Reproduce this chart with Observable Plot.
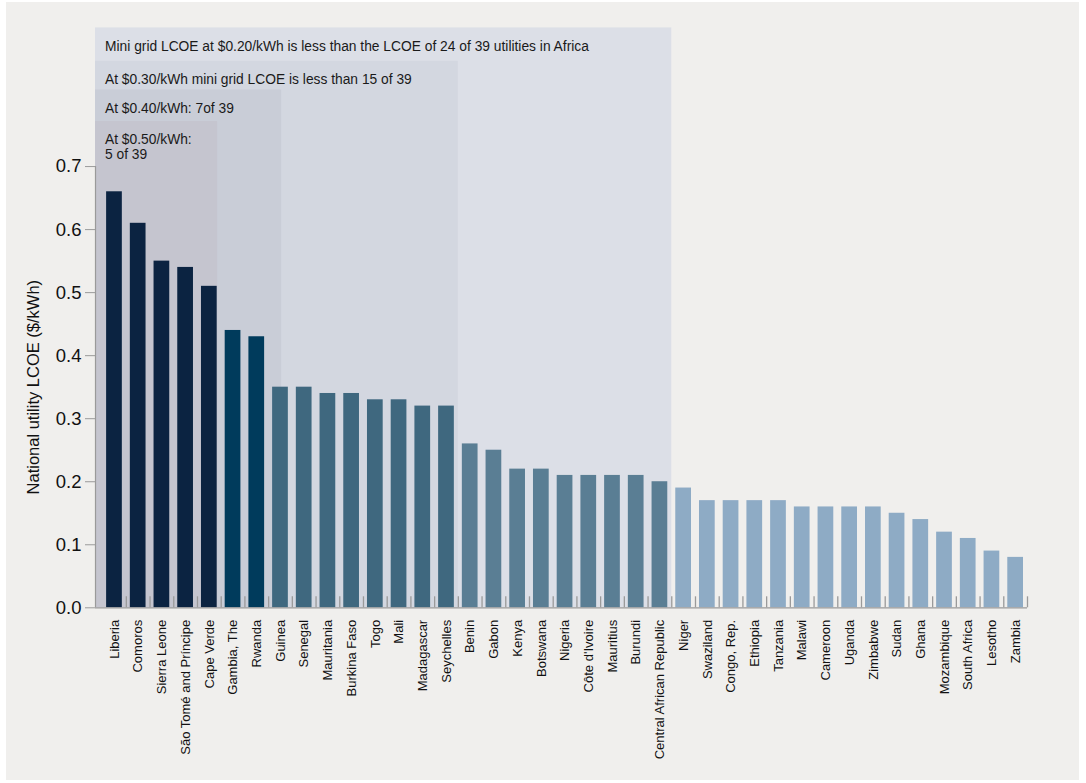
<!DOCTYPE html>
<html><head><meta charset="utf-8">
<script src="https://cdn.jsdelivr.net/npm/d3@7"></script>
<script src="https://cdn.jsdelivr.net/npm/@observablehq/plot@0.6"></script>
<style>
html,body{margin:0;padding:0;background:#fff;}
#chart{position:absolute;left:6px;top:2px;width:1073px;height:778px;background:#f0efed;}
</style></head><body><div id="chart"></div>
<script>
const countries = ["Liberia","Comoros","Sierra Leone","São Tomé and Príncipe","Cape Verde","Gambia, The","Rwanda","Guinea","Senegal","Mauritania","Burkina Faso","Togo","Mali","Madagascar","Seychelles","Benin","Gabon","Kenya","Botswana","Nigeria","Côte d'Ivoire","Mauritius","Burundi","Central African Republic","Niger","Swaziland","Congo, Rep.","Ethiopia","Tanzania","Malawi","Cameroon","Uganda","Zimbabwe","Sudan","Ghana","Mozambique","South Africa","Lesotho","Zambia"];
const lcoe = [0.66,0.61,0.55,0.54,0.51,0.44,0.43,0.35,0.35,0.34,0.34,0.33,0.33,0.32,0.32,0.26,0.25,0.22,0.22,0.21,0.21,0.21,0.21,0.20,0.19,0.17,0.17,0.17,0.17,0.16,0.16,0.16,0.16,0.15,0.14,0.12,0.11,0.09,0.08];
const thresholds = [0.2, 0.3, 0.4, 0.5];
const barColors = ["#8eabc5", "#5a7e94", "#3f687f", "#003b5c", "#0b2341"];
const panelText = [
  "Mini grid LCOE at $0.20/kWh is less than the LCOE of 24 of 39 utilities in Africa",
  "At $0.30/kWh mini grid LCOE is less than 15 of 39",
  "At $0.40/kWh: 7of 39",
  "At $0.50/kWh:\n5 of 39"
];
const panelRight = [24, 15, 7.55, 4.85];
const panelTop = [0.92, 0.867, 0.8215, 0.7715];
const panelColors = ["#dcdfe7", "#d3d7e0", "#c9cdd7", "#c5c5cf"];
const yTicks = [0, 0.1, 0.2, 0.3, 0.4, 0.5, 0.6, 0.7];
const yLabel = "National utility LCOE ($/kWh)";

const rows = countries.map((c, i) => ({i, country: c, value: lcoe[i]}));
const xStart = -0.3;
const panels = panelText.map((t, k) => ({x1: xStart, x2: panelRight[k], top: panelTop[k], text: t, fill: panelColors[k]}));

const W = 1073, H = 778, mt = 25.4, mb = 172.7, ml = 89, mr = 52;
const yMax = 0.92;
const tickLen = 11 / ((H - mt - mb) / yMax);
const gray = "#9a9a9a";

const chart = Plot.plot({
  width: W, height: H,
  marginTop: mt, marginBottom: mb, marginLeft: ml, marginRight: mr,
  style: {fontFamily: "'Liberation Sans', Arial, sans-serif", background: "transparent", color: "#111"},
  x: {domain: [xStart, countries.length]},
  y: {domain: [0, yMax]},
  color: {type: "threshold", domain: thresholds, range: barColors},
  marks: [
    ...panels.map(p => Plot.rect([p], {x1: "x1", x2: "x2", y1: 0, y2: "top", fill: p.fill})),
    Plot.text(panels, {x: "x1", y: "top", text: "text", textAnchor: "start", lineAnchor: "top", dx: 9.5, dy: 12, fontSize: 13.8, lineHeight: 1.1, fill: "#1a1a1a"}),
    Plot.rectY(rows, {x1: "i", x2: d => d.i + 1, y: "value", fill: "value", insetLeft: 4, insetRight: 4}),
    Plot.ruleY([0], {stroke: gray, strokeWidth: 1.3}),
    Plot.ruleX(d3.range(1, countries.length + 1), {y1: 0, y2: tickLen, stroke: gray, strokeWidth: 1.3}),
    Plot.ruleX([xStart], {y1: 0, y2: 0.7, stroke: gray, strokeWidth: 1.2}),
    Plot.axisY(yTicks, {tickFormat: d3.format(".1f"), tickSize: 10, tickPadding: 4, fontSize: 18.5, stroke: gray, fill: "#111", label: null}),
    Plot.axisX(rows.map(d => d.i + 0.5), {tickFormat: v => countries[Math.floor(v)], tickRotate: -90, tickSize: 0, tickPadding: 12, fontSize: 13, fill: "#111", label: null}),
    Plot.text([yLabel], {x: xStart, y: 0.35, text: d => d, dx: -62, rotate: -90, textAnchor: "middle", lineAnchor: "middle", fontSize: 16.5, fill: "#111"})
  ]
});
document.getElementById("chart").appendChild(chart);
</script></body></html>
